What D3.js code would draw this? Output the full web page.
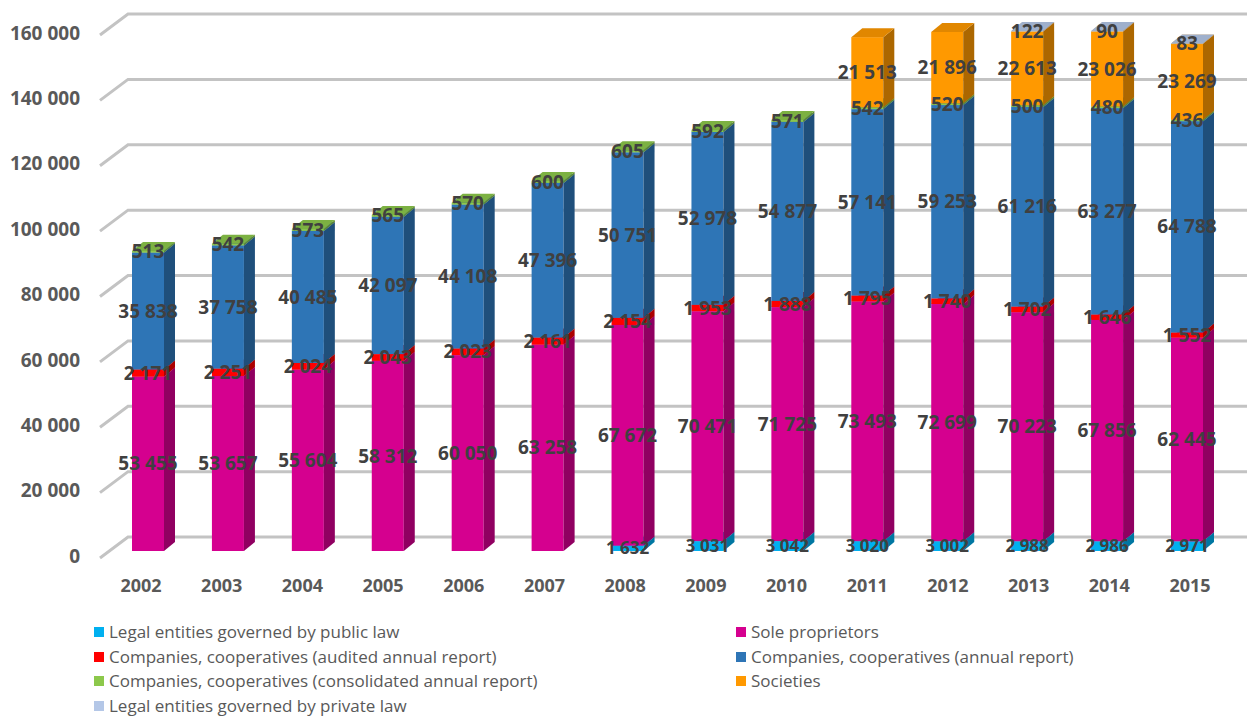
<!DOCTYPE html>
<html>
<head>
<meta charset="utf-8">
<script src="https://cdn.jsdelivr.net/npm/d3@7/dist/d3.min.js"></script>
<style>
  html, body { margin: 0; padding: 0; background: #ffffff; }
  svg { display: block; }
</style>
</head>
<body>
<svg id="chart" width="1247" height="716"></svg>
<script>
// Number of entities by legal form, 2002–2015
const years = ["2002","2003","2004","2005","2006","2007","2008","2009","2010","2011","2012","2013","2014","2015"];
const publicLaw          = [0, 0, 0, 0, 0, 0, 1632, 3031, 3042, 3020, 3002, 2988, 2986, 2971];
const soleProprietors    = [53455, 53657, 55604, 58312, 60050, 63258, 67672, 70471, 71725, 73493, 72699, 70223, 67856, 62445];
const auditedReport      = [2171, 2251, 2024, 2043, 2023, 2161, 2154, 1953, 1888, 1795, 1740, 1702, 1646, 1552];
const annualReport       = [35838, 37758, 40485, 42097, 44108, 47396, 50751, 52978, 54877, 57141, 59253, 61216, 63277, 64788];
const consolidatedReport = [513, 542, 573, 565, 570, 600, 605, 592, 571, 542, 520, 500, 480, 436];
const societies          = [0, 0, 0, 0, 0, 0, 0, 0, 0, 21513, 21896, 22613, 23026, 23269];
const privateLaw         = [0, 0, 0, 0, 0, 0, 0, 0, 0, 0, 0, 122, 90, 83];
const yTicks = [0, 20000, 40000, 60000, 80000, 100000, 120000, 140000, 160000];

const series = [
  { name: "Legal entities governed by public law", values: publicLaw, color: "#00B0F0", small: true },
  { name: "Sole proprietors", values: soleProprietors, color: "#D5008F" },
  { name: "Companies, cooperatives (audited annual report)", values: auditedReport, color: "#FF0000" },
  { name: "Companies, cooperatives (annual report)", values: annualReport, color: "#2E75B6" },
  { name: "Companies, cooperatives (consolidated annual report)", values: consolidatedReport, color: "#8CC84B" },
  { name: "Societies", values: societies, color: "#FF9900" },
  { name: "Legal entities governed by private law", values: privateLaw, color: "#B4C7E7" }
];

const svg = d3.select("#chart");
const fmt = d3.formatLocale({ decimal: ",", thousands: " ", grouping: [3], currency: ["", ""] }).format(",");

// Scales: back wall, side-wall front edge, and the plane the bars stand in
const yBack  = d3.scaleLinear().domain([0, 160000]).range([537, 14]);
const yFront = d3.scaleLinear().domain([0, 160000]).range([558, 35]);
const yBar   = d3.scaleLinear().domain([0, 160000]).range([551, 29]);
const xBar   = d3.scalePoint().domain(years).range([148, 1187]);
const xYear  = d3.scalePoint().domain(years).range([141, 1190]);

const barW = 32, depthX = 11, depthY = 9;
const wallLeft = 100, wallBack = 128;

// Gridlines: short diagonal on the side wall, then along the back wall
const grid = svg.append("g");
yTicks.forEach(v => {
  grid.append("polyline")
    .attr("points", `${wallLeft},${yFront(v)} ${wallBack},${yBack(v)} 1247,${yBack(v)}`)
    .attr("fill", "none")
    .attr("stroke", "#C3C3C3")
    .attr("stroke-width", 3);
});

// Value axis labels
svg.append("g").selectAll("text").data(yTicks).join("text")
  .attr("x", 80)
  .attr("y", d => yFront(d) - 2)
  .attr("dy", "0.35em")
  .attr("text-anchor", "end")
  .attr("font-family", "'Open Sans', sans-serif")
  .attr("font-weight", 700)
  .attr("font-size", 19)
  .attr("fill", "#595959")
  .text(d => fmt(d));

// Category labels
svg.append("g").selectAll("text").data(years).join("text")
  .attr("x", d => xYear(d))
  .attr("y", 586)
  .attr("dy", "0.35em")
  .attr("text-anchor", "middle")
  .attr("font-family", "'Open Sans', sans-serif")
  .attr("font-weight", 700)
  .attr("font-size", 18)
  .attr("fill", "#595959")
  .text(d => d);

// Stack segments
const segments = [];
years.forEach((yr, i) => {
  let base = 0;
  series.forEach(s => {
    const v = s.values[i];
    if (v > 0) {
      segments.push({ year: yr, series: s, v0: base, v1: base + v, value: v });
    }
    base += v;
  });
});

// 3D boxes: front, right side, top, drawn bottom-up so upper blocks cover lower tops
const bars = svg.append("g");
segments.forEach(d => {
  const cx = xBar(d.year);
  const x0 = cx - barW / 2, x1 = cx + barW / 2;
  const yb = yBar(d.v0), yt = yBar(d.v1);
  const base = d3.color(d.series.color);
  const sideCol = base.darker(1.1).formatHex();
  const topCol = base.darker(0.35).formatHex();
  const g = bars.append("g");
  g.append("rect")
    .attr("x", x0).attr("y", yt)
    .attr("width", barW).attr("height", Math.max(yb - yt, 0.5))
    .attr("fill", d.series.color);
  g.append("polygon")
    .attr("points", `${x1},${yt} ${x1 + depthX},${yt - depthY} ${x1 + depthX},${yb - depthY} ${x1},${yb}`)
    .attr("fill", sideCol);
  g.append("polygon")
    .attr("points", `${x0},${yt} ${x1},${yt} ${x1 + depthX},${yt - depthY} ${x0 + depthX},${yt - depthY}`)
    .attr("fill", topCol);
});

// Data labels at the middle of each segment
svg.append("g").selectAll("text").data(segments).join("text")
  .attr("x", d => xBar(d.year))
  .attr("y", d => (yBar(d.v0) + yBar(d.v1)) / 2)
  .attr("dy", "0.35em")
  .attr("text-anchor", "middle")
  .attr("font-family", "'Open Sans', sans-serif")
  .attr("font-weight", 700)
  .attr("font-size", d => d.series.small ? 17 : 19)
  .attr("fill", "#404040")
  .text(d => fmt(d.value));

// Legend, two columns, row-major
const legend = svg.append("g");
const colX = [94, 736], rowY = [632, 657, 681, 706];
series.forEach((s, i) => {
  const col = i % 2, row = Math.floor(i / 2);
  const g = legend.append("g").attr("transform", `translate(${colX[col]},${rowY[row]})`);
  g.append("rect").attr("x", 0).attr("y", -5).attr("width", 10).attr("height", 10).attr("fill", s.color);
  g.append("text")
    .attr("x", 15).attr("y", 0).attr("dy", "0.35em")
    .attr("font-family", "'Open Sans', sans-serif")
    .attr("font-size", 17)
    .attr("fill", "#595959")
    .text(s.name);
});
</script>
</body>
</html>
